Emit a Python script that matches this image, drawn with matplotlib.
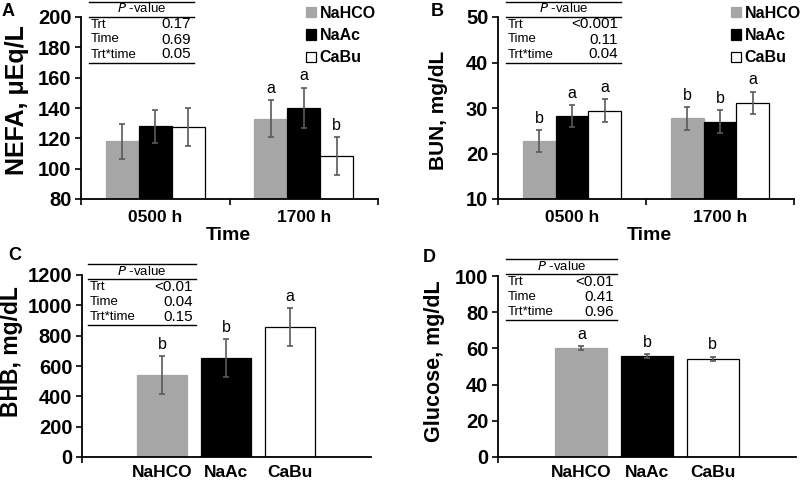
import matplotlib
matplotlib.use("Agg")
import matplotlib.pyplot as plt
from matplotlib.lines import Line2D
import numpy as np

plt.rcParams['font.family'] = ['Liberation Sans', 'DejaVu Sans']

treatments = ["NaHCO", "NaAc", "CaBu"]
colors = ["#a6a6a6", "#000000", "#ffffff"]
edges = ["#a6a6a6", "#000000", "#000000"]
times = ["0500 h", "1700 h"]

# panel A, NEFA (rows = treatment, cols = time)
nefa_mean = [[118, 133], [128, 140], [127.5, 108.5]]
nefa_err = [[11.5, 12], [11, 13.5], [12.5, 12.5]]
nefa_let = [["", "a"], ["", "a"], ["", "b"]]
nefa_p = ["0.17", "0.69", "0.05"]

# panel B, BUN
bun_mean = [[22.7, 27.7], [28.3, 27.0], [29.4, 31.1]]
bun_err = [[2.4, 2.5], [2.4, 2.5], [2.5, 2.5]]
bun_let = [["b", "b"], ["a", "b"], ["a", "a"]]
bun_p = ["<0.001", "0.11", "0.04"]

# panel C, BHB
bhb_mean = [540, 650, 855]
bhb_err = [123, 125, 125]
bhb_let = ["b", "b", "a"]
bhb_p = ["<0.01", "0.04", "0.15"]

# panel D, glucose
glu_mean = [60.3, 55.7, 54.3]
glu_err = [1.2, 1.2, 1.2]
glu_let = ["a", "b", "b"]
glu_p = ["<0.01", "0.41", "0.96"]

p_rows = ["Trt", "Time", "Trt*time"]

W, H = 800, 480
fig = plt.figure(figsize=(8, 4.8), dpi=100)


def fx(px):
    return px / W


def fy(py):
    return 1 - py / H


def style_axis(ax, yticks):
    for s in ["top", "right"]:
        ax.spines[s].set_visible(False)
    for s in ["left", "bottom"]:
        ax.spines[s].set_linewidth(1.3)
    ax.set_ylim(yticks[0], yticks[-1])
    ax.set_yticks(yticks)
    ax.tick_params(axis="y", direction="out", length=4, width=1.2, labelsize=14.5, pad=3)
    for lab in ax.get_yticklabels():
        lab.set_fontweight("bold")


def p_table(x0, x1, ytop, vals):
    lw = 1.0
    for dy in [0, 15, 61]:
        fig.add_artist(Line2D([fx(x0), fx(x1)], [fy(ytop + dy)] * 2, color="black", lw=lw))
    fig.text(fx((x0 + x1) / 2), fy(ytop + 7.5), r"$\it{P}$ -value", ha="center", va="center", fontsize=9.5)
    for i, (r, v) in enumerate(zip(p_rows, vals)):
        yy = ytop + 23 + 15 * i
        fig.text(fx(x0 + 2), fy(yy), r, ha="left", va="center", fontsize=9.5)
        fig.text(fx(x1 - 3), fy(yy), v, ha="right", va="center", fontsize=11)


def letters(ax, xs, tops, labs):
    for x, t, l in zip(xs, tops, labs):
        if l:
            ax.annotate(l, (x, t), xytext=(0, 3), textcoords="offset points",
                        ha="center", va="bottom", fontsize=11.5)


def grouped(ax, means, errs, lets, yticks, ylabel):
    x = np.arange(len(times))
    bw = 0.222
    handles = []
    for i in range(len(treatments)):
        xi = x + (i - 1) * bw
        b = ax.bar(xi, means[i], bw, color=colors[i], edgecolor=edges[i], linewidth=0.9,
                   yerr=errs[i], error_kw=dict(ecolor="#5a5a5a", elinewidth=1.2, capsize=2.5, capthick=1.2),
                   label=treatments[i])
        handles.append(b)
        letters(ax, xi, np.array(means[i]) + np.array(errs[i]), lets[i])
    ax.set_xlim(-0.5, 1.5)
    ax.set_xticks(x)
    ax.set_xticklabels(times, fontsize=12.5, fontweight="bold")
    ax.set_xticks([-0.5, 0.5, 1.5], minor=True)
    ax.tick_params(axis="x", which="major", length=0, pad=8)
    ax.tick_params(axis="x", which="minor", length=4, width=1.2)
    ax.set_xlabel("Time", fontsize=14, fontweight="bold")
    style_axis(ax, yticks)
    ax.set_ylabel(ylabel, fontweight="bold")
    return handles


def single(ax, means, errs, lets, yticks, ylabel, bw, xlim):
    x = np.arange(len(treatments)) - 1
    ax.bar(x, means, bw, color=colors, edgecolor=edges, linewidth=0.9,
           yerr=errs, error_kw=dict(ecolor="#5a5a5a", elinewidth=1.2, capsize=2.5, capthick=1.2))
    letters(ax, x, np.array(means) + np.array(errs), lets)
    ax.set_xlim(*xlim)
    ax.set_xticks(x)
    ax.set_xticklabels(treatments, fontsize=12.5, fontweight="bold")
    ax.set_xticks([xlim[0]], minor=True)
    ax.tick_params(axis="x", which="major", length=0, pad=6)
    ax.tick_params(axis="x", which="minor", length=4, width=1.2)
    style_axis(ax, yticks)
    ax.set_ylabel(ylabel, fontweight="bold")


axA = fig.add_axes([fx(81), fy(199), fx(378 - 81), (199 - 17) / H])
axB = fig.add_axes([fx(498), fy(199), fx(794 - 498), (199 - 17) / H])
axC = fig.add_axes([fx(82), fy(457), fx(371 - 82), (457 - 275) / H])
axD = fig.add_axes([fx(498), fy(457), fx(796 - 498), (457 - 276) / H])

hA = grouped(axA, nefa_mean, nefa_err, nefa_let, np.arange(80, 201, 20), "NEFA, μEq/L")
hB = grouped(axB, bun_mean, bun_err, bun_let, np.arange(10, 51, 10), "BUN, mg/dL")
single(axC, bhb_mean, bhb_err, bhb_let, np.arange(0, 1201, 200), "BHB, mg/dL", 0.78, (-2.25, 2.27))
single(axD, glu_mean, glu_err, glu_let, np.arange(0, 101, 20), "Glucose, mg/dL", 0.79, (-2.27, 2.27))

# y labels
for ax, size, cx, cy in [(axA, 18, 17, 100), (axB, 15, 438, 110),
                         (axC, 16.5, 12, 352), (axD, 15.5, 435, 361)]:
    ax.yaxis.label.set_fontsize(size)
    ax.yaxis.label.set_va("center")
    ax.yaxis.set_label_coords(fx(cx), fy(cy), transform=fig.transFigure)

# x labels
axA.xaxis.set_label_coords(fx(228), fy(236), transform=fig.transFigure)
axB.xaxis.set_label_coords(fx(649), fy(236), transform=fig.transFigure)
for ax in (axA, axB):
    ax.xaxis.label.set_va("center")

# legends
for ax, h, lx in [(axA, hA, 306), (axB, hB, 731)]:
    ax.legend(h, treatments, loc="upper left", bbox_to_anchor=(fx(lx), fy(6)),
              bbox_transform=fig.transFigure, frameon=False,
              prop=dict(size=11.5, weight="bold"), handlelength=0.6, handleheight=0.6,
              handletextpad=0.25, labelspacing=0.45, borderaxespad=0, borderpad=0)

# p-value tables
p_table(89, 194, 1.5, nefa_p)
p_table(506, 621, 1.5, bun_p)
p_table(88, 196, 264, bhb_p)
p_table(506, 617, 259, glu_p)

# panel letters
for t, cx, cy in [("A", 8, 11), ("B", 437, 11), ("C", 15, 255), ("D", 429, 257)]:
    fig.text(fx(cx), fy(cy), t, ha="center", va="center", fontsize=13, fontweight="bold")

fig.savefig("out.png", dpi=100)
